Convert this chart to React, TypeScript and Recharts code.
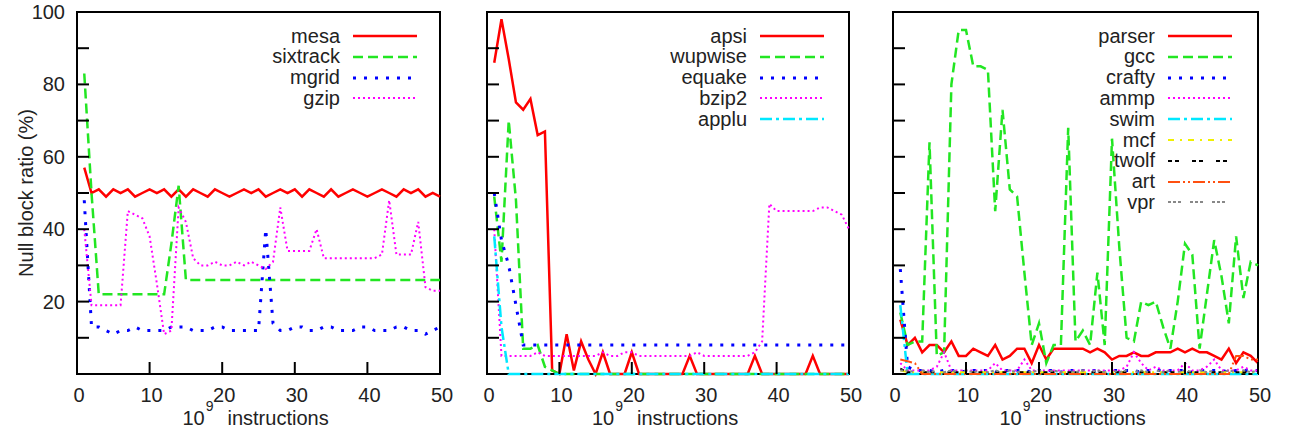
import React from "react";
import { LineChart, Line, XAxis, YAxis, ReferenceArea, Legend } from "recharts";

// 10^9 instructions
const xs = [
  1, 2, 3, 4, 5, 6, 7, 8, 9, 10, 11, 12, 13, 14, 15, 16, 17, 18, 19, 20, 21, 22, 23, 24, 25,
  26, 27, 28, 29, 30, 31, 32, 33, 34, 35, 36, 37, 38, 39, 40, 41, 42, 43, 44, 45, 46, 47, 48, 49, 50,
];
const xTicks = [0, 10, 20, 30, 40, 50];
const yTicks = [0, 10, 20, 30, 40, 50, 60, 70, 80, 90, 100];

// left panel
const mesa = [
  57, 50, 51, 49, 51, 50, 51, 49, 50, 51, 50, 51, 49, 51, 49, 51, 50, 49, 51, 50, 49, 50, 51, 50, 51,
  49, 50, 51, 50, 51, 49, 51, 50, 49, 51, 49, 50, 51, 50, 49, 50, 51, 50, 49, 51, 50, 51, 49, 50, 49,
];
const sixtrack = [
  83, 50, 22, 22, 22, 22, 22, 22, 22, 22, 22, 22, 36, 52, 26, 26, 26, 26, 26, 26, 26, 26, 26, 26, 26,
  26, 26, 26, 26, 26, 26, 26, 26, 26, 26, 26, 26, 26, 26, 26, 26, 26, 26, 26, 26, 26, 26, 26, 26, 26,
];
const mgrid = [
  48, 13, 13, 12, 11, 12, 12, 13, 12, 12, 12, 12, 13, 13, 13, 12, 12, 12, 13, 13, 12, 12, 12, 12, 12,
  40, 14, 12, 12, 13, 13, 12, 12, 13, 13, 12, 12, 12, 13, 13, 12, 12, 12, 13, 13, 12, 12, 11, 12, 13,
];
const gzip = [
  40, 19, 19, 19, 19, 19, 45, 44, 43, 38, 25, 11, 12, 46, 42, 32, 30, 30, 31, 30, 30, 31, 30, 31, 30,
  29, 31, 46, 34, 34, 34, 34, 40, 32, 32, 32, 32, 32, 32, 32, 32, 33, 48, 33, 33, 33, 42, 24, 23, 23,
];

// middle panel
const apsi = [
  86, 98, 87, 75, 73, 76, 66, 67, 1, 0, 11, 1, 9, 4, 0, 6, 0, 0, 0, 6, 0, 0, 0, 0, 0,
  0, 0, 5, 0, 0, 0, 0, 0, 0, 0, 0, 5, 0, 0, 0, 0, 0, 0, 0, 5, 0, 0, 0, 0, 0,
];
const wupwise = [
  49, 31, 70, 48, 7, 7, 8, 2, 1, 0, 0, 0, 0, 0, 0, 0, 0, 0, 0, 0, 0, 0, 0, 0, 0,
  0, 0, 0, 0, 0, 0, 0, 0, 0, 0, 0, 0, 0, 0, 0, 0, 0, 0, 0, 0, 0, 0, 0, 0, 0,
];
const equake = [
  50, 37, 30, 19, 8, 8, 8, 8, 8, 8, 8, 8, 8, 8, 8, 8, 8, 8, 8, 8, 8, 8, 8, 8, 8,
  8, 8, 8, 8, 8, 8, 8, 8, 8, 8, 8, 8, 8, 8, 8, 8, 8, 8, 8, 8, 8, 8, 8, 8, 8,
];
const bzip2 = [
  40, 5, 5, 5, 5, 5, 6, 5, 5, 5, 5, 5, 5, 5, 5, 6, 5, 5, 6, 6, 5, 5, 5, 5, 5,
  5, 5, 5, 6, 5, 5, 5, 5, 5, 5, 5, 6, 9, 47, 45, 45, 45, 45, 45, 45, 46, 46, 45, 44, 40,
];
const applu = [
  38, 13, 0, 0, 0, 0, 0, 0, 0, 0, 0, 0, 0, 0, 0, 0, 0, 0, 0, 0, 0, 0, 0, 0, 0,
  0, 0, 0, 0, 0, 0, 0, 0, 0, 0, 0, 0, 0, 0, 0, 0, 0, 0, 0, 0, 0, 0, 0, 0, 0,
];

// right panel
const parser = [
  15, 8, 10, 6, 8, 8, 6, 9, 5, 5, 7, 6, 5, 8, 4, 5, 7, 7, 3, 8, 4, 7, 7, 7, 7,
  7, 6, 7, 6, 4, 5, 5, 6, 5, 5, 6, 6, 6, 7, 6, 7, 6, 6, 5, 4, 7, 3, 6, 5, 3,
];
const gcc = [
  17, 8, 9, 9, 64, 5, 6, 80, 95, 95, 85, 85, 84, 45, 73, 51, 49, 28, 8, 14, 3, 8, 8, 68, 9,
  12, 8, 28, 8, 65, 35, 10, 9, 20, 19, 20, 13, 7, 20, 36, 33, 7, 22, 37, 27, 14, 38, 21, 31, 30,
];
const crafty = [
  29, 2, 1, 1, 1, 0.5, 1, 1, 1, 0.5, 1, 1, 1, 0.5, 1, 1, 1, 1, 0.5, 1, 1, 1, 0.5, 1, 1,
  1, 1, 1, 0.5, 1, 1, 1, 1, 0.5, 1, 1, 1, 1, 1, 1, 0.5, 1, 1, 1, 1, 0.5, 1, 1, 1, 1,
];
const ammp = [
  3, 1, 1, 1, 1, 2, 6, 1, 1, 1, 1, 1, 1, 3, 1, 1, 1, 4, 1, 1, 1, 1, 1, 1, 1,
  1, 1, 1, 1, 1, 1, 2, 6, 3, 1, 2, 1, 1, 1, 3, 1, 1, 2, 4, 1, 1, 1, 2, 1, 1,
];
const swim = [
  19, 0, 0, 0, 0, 0, 0, 0, 0, 0, 0, 0, 0, 0, 0, 0, 0, 0, 0, 0, 0, 0, 0, 0, 0,
  0, 0, 0, 0, 0, 0, 0, 0, 0, 0, 0, 0, 0, 0, 0, 0, 0, 0, 0, 0, 0, 0, 0, 0, 0,
];
const mcf = [
  1, 0.5, 0.5, 0.5, 0.5, 0.5, 0.5, 0.5, 0.5, 0.5, 0.5, 0.5, 0.5, 0.5, 0.5, 0.5, 0.5, 0.5, 0.5, 0.5, 0.5, 0.5, 0.5, 0.5, 0.5,
  0.5, 0.5, 0.5, 0.5, 0.5, 0.5, 0.5, 0.5, 0.5, 0.5, 0.5, 0.5, 0.5, 0.5, 0.5, 0.5, 0.5, 0.5, 0.5, 0.5, 0.5, 0.5, 0.5, 0.5, 0.5,
];
const twolf = [
  1.5, 0.5, 0.5, 0.5, 0.5, 0.5, 0.5, 0.5, 0.5, 0.5, 0.5, 0.5, 0.5, 0.5, 0.5, 0.5, 0.5, 0.5, 0.5, 0.5, 0.5, 0.5, 0.5, 0.5, 0.5,
  0.5, 0.5, 0.5, 0.5, 0.5, 0.5, 0.5, 0.5, 0.5, 0.5, 0.5, 0.5, 0.5, 0.5, 0.5, 0.5, 0.5, 0.5, 0.5, 0.5, 0.5, 0.5, 0.5, 0.5, 0.5,
];
const art = [
  4, 3.5, 3, 0, 0, 0, 0, 0, 0, 0, 0, 0, 0, 0, 0, 0, 0, 0, 0, 0, 0, 0, 0, 0, 0,
  0, 0, 0, 0, 0, 0, 0, 0, 0, 0, 0, 0, 0, 0, 0, 0, 0, 0, 0, 0, 0, 5, 5, 4, 4,
];
const vpr = [
  1, 1, 0.5, 1, 0.5, 1, 0.5, 1, 0.5, 1, 0.5, 1, 0.5, 1, 0.5, 1, 0.5, 1, 0.5, 1, 0.5, 1, 0.5, 1, 0.5,
  1, 0.5, 1, 0.5, 1, 0.5, 1, 0.5, 1, 0.5, 1, 0.5, 1, 0.5, 1, 0.5, 1, 0.5, 1, 0.5, 1, 0.5, 1, 0.5, 1,
];

const FONT = '"Liberation Sans", Arial, sans-serif';
const TEXT = "#222";
const TOP = 12;
const BOTTOM = 374;
const PLOT_LEFT = 77;
const TICK = 12;
const FRAME = 2;

type Series = { key: string; values: number[]; color: string; dash?: string; width: number };

const RED = { color: "#ff0000", width: 2.5 };
const GREEN = { color: "#22e622", dash: "10 5", width: 2.5 };
const BLUE = { color: "#0000ff", dash: "3 8", width: 3 };
const MAGENTA = { color: "#ff00ff", dash: "2 3", width: 2 };
const CYAN = { color: "#00e8ff", dash: "12 4 3 4", width: 2.5 };

const leftSeries: Series[] = [
  { key: "mesa", values: mesa, ...RED },
  { key: "sixtrack", values: sixtrack, ...GREEN },
  { key: "mgrid", values: mgrid, ...BLUE },
  { key: "gzip", values: gzip, ...MAGENTA },
];
const midSeries: Series[] = [
  { key: "apsi", values: apsi, ...RED },
  { key: "wupwise", values: wupwise, ...GREEN },
  { key: "equake", values: equake, ...BLUE },
  { key: "bzip2", values: bzip2, ...MAGENTA },
  { key: "applu", values: applu, ...CYAN },
];
const rightSeries: Series[] = [
  { key: "parser", values: parser, ...RED },
  { key: "gcc", values: gcc, ...GREEN },
  { key: "crafty", values: crafty, ...BLUE },
  { key: "ammp", values: ammp, ...MAGENTA },
  { key: "swim", values: swim, ...CYAN },
  { key: "mcf", values: mcf, color: "#f0f000", dash: "6 6 2 6", width: 2 },
  { key: "twolf", values: twolf, color: "#000000", dash: "4 3 4 13", width: 2 },
  { key: "art", values: art, color: "#ff5010", dash: "12 3 2 3 2 3", width: 2 },
  { key: "vpr", values: vpr, color: "#888888", dash: "3 2 3 2 3 9", width: 2 },
];

function buildRows(series: Series[]) {
  return xs.map((x, i) => {
    const row: Record<string, number> = { x };
    series.forEach((s) => {
      row[s.key] = s.values[i];
    });
    return row;
  });
}

const showY = (v: number) => v > 0 && v % 20 === 0;

// gnuplot style: tick marks point into the plot
const XTick = (props: any) => {
  const { x, payload } = props;
  return (
    <g>
      <path d={`M${x},${BOTTOM}V${BOTTOM - TICK}`} stroke="#000" strokeWidth={FRAME} fill="none" />
      <text x={x + 2} y={BOTTOM + 28} textAnchor="middle" fontSize={20} fontFamily={FONT} fill={TEXT}>
        {payload.value}
      </text>
    </g>
  );
};

const makeLeftTick = (labels: boolean) => (props: any) => {
  const { y, payload } = props;
  return (
    <g>
      <path d={`M${PLOT_LEFT},${y}H${PLOT_LEFT + TICK}`} stroke="#000" strokeWidth={FRAME} fill="none" />
      {labels && showY(payload.value) ? (
        <text x={PLOT_LEFT - 12} y={y + 7} textAnchor="end" fontSize={20} fontFamily={FONT} fill={TEXT}>
          {payload.value}
        </text>
      ) : null}
    </g>
  );
};

const makeRightTick = (plotRight: number, labels: boolean) => (props: any) => {
  const { y, payload } = props;
  return (
    <g>
      <path d={`M${plotRight},${y}H${plotRight - TICK}`} stroke="#000" strokeWidth={FRAME} fill="none" />
      {labels && showY(payload.value) ? (
        <text x={plotRight + 29} y={y + 7} textAnchor="middle" fontSize={20} fontFamily={FONT} fill={TEXT}>
          {payload.value}
        </text>
      ) : null}
    </g>
  );
};

const makeXTitle = (cx: number) => () =>
  (
    <text x={cx - 76} y={425} fontSize={20} fontFamily={FONT} fill={TEXT}>
      10
      <tspan dx={1} dy={-14} fontSize={14}>
        9
      </tspan>
      <tspan x={cx - 31} dy={14}>
        instructions
      </tspan>
    </text>
  );

const YTitle = () => (
  <text
    x={33}
    y={193}
    transform="rotate(-90 33 193)"
    textAnchor="middle"
    fontSize={20}
    fontFamily={FONT}
    fill={TEXT}
  >
    Null block ratio (%)
  </text>
);

function LegendBox({ series }: { series: Series[] }) {
  return (
    <div style={{ fontFamily: FONT, fontSize: 20, color: TEXT }}>
      {series.map((s) => (
        <div
          key={s.key}
          style={{ display: "flex", justifyContent: "flex-end", alignItems: "center", height: 20.8 }}
        >
          <span style={{ lineHeight: "20.8px" }}>{s.key}</span>
          <svg width={64} height={10} style={{ marginLeft: 13 }}>
            <line
              x1={0}
              x2={64}
              y1={5}
              y2={5}
              stroke={s.color}
              strokeWidth={s.width}
              strokeDasharray={s.dash}
            />
          </svg>
        </div>
      ))}
    </div>
  );
}

type PanelProps = {
  left: number;
  plotWidth: number;
  rightWidth: number;
  series: Series[];
  leftLabels?: boolean;
  rightLabels?: boolean;
  yTitle?: boolean;
  legendRight: number;
};

function Panel({ left, plotWidth, rightWidth, series, leftLabels, rightLabels, yTitle, legendRight }: PanelProps) {
  const width = PLOT_LEFT + plotWidth + rightWidth;
  const plotRight = PLOT_LEFT + plotWidth;
  const data = buildRows(series);
  return (
    <div style={{ position: "absolute", left, top: 0 }}>
      <LineChart width={width} height={432} data={data} margin={{ top: TOP, right: 0, bottom: 0, left: 0 }}>
        <XAxis
          dataKey="x"
          type="number"
          domain={[0, 50]}
          ticks={xTicks}
          interval={0}
          height={432 - BOTTOM}
          axisLine={false}
          tickLine={false}
          tick={XTick}
          label={makeXTitle(PLOT_LEFT + plotWidth / 2)}
        />
        <YAxis
          yAxisId="l"
          type="number"
          domain={[0, 100]}
          ticks={yTicks}
          interval={0}
          width={PLOT_LEFT}
          axisLine={false}
          tickLine={false}
          tick={makeLeftTick(!!leftLabels)}
          label={yTitle ? YTitle : undefined}
        />
        <YAxis
          yAxisId="r"
          orientation="right"
          type="number"
          domain={[0, 100]}
          ticks={yTicks}
          interval={0}
          width={rightWidth}
          axisLine={false}
          tickLine={false}
          tick={makeRightTick(plotRight, !!rightLabels)}
        />
        <ReferenceArea yAxisId="l" x1={0} x2={50} y1={0} y2={100} fill="none" stroke="#000" strokeWidth={FRAME} />
        {series.map((s) => (
          <Line
            key={s.key}
            yAxisId="l"
            type="linear"
            dataKey={s.key}
            stroke={s.color}
            strokeWidth={s.width}
            strokeDasharray={s.dash}
            dot={false}
            activeDot={false}
            isAnimationActive={false}
          />
        ))}
        <Legend
          layout="vertical"
          align="center"
          verticalAlign="middle"
          wrapperStyle={{ top: 25.6, right: legendRight, width: "auto", height: "auto" }}
          content={() => <LegendBox series={series} />}
        />
      </LineChart>
    </div>
  );
}

export default function App() {
  return (
    <div style={{ position: "absolute", left: 0, top: 0, width: 1308, height: 432, background: "#fff" }}>
      <Panel left={0} plotWidth={363} rightWidth={20} series={leftSeries} leftLabels yTitle legendRight={43} />
      <Panel left={410} plotWidth={362} rightWidth={20} series={midSeries} legendRight={45} />
      <Panel left={816} plotWidth={365} rightWidth={50} series={rightSeries} rightLabels legendRight={76} />
    </div>
  );
}
